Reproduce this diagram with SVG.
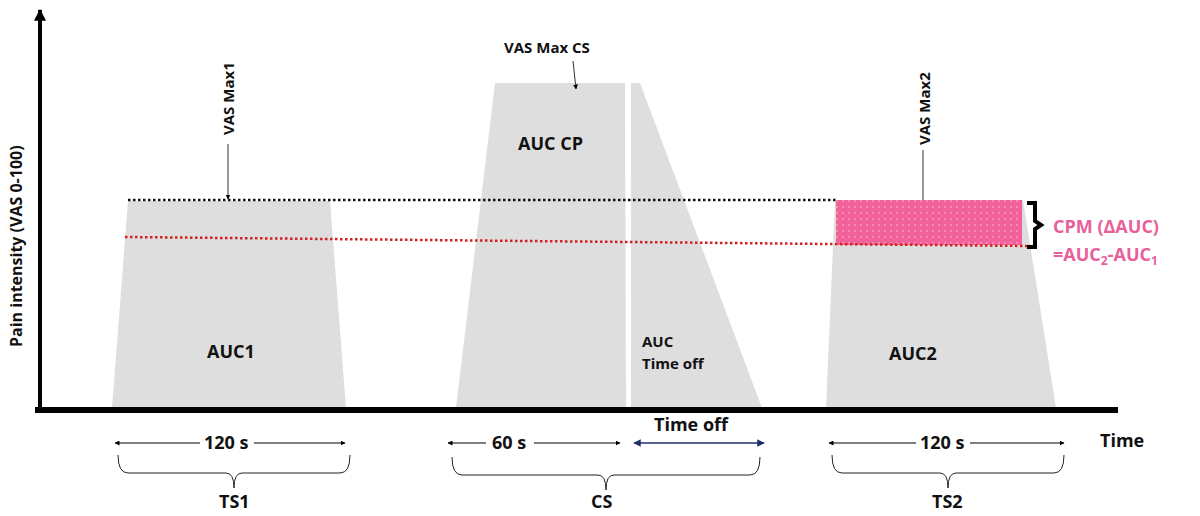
<svg xmlns="http://www.w3.org/2000/svg" width="1200" height="516" viewBox="0 0 1200 516">
<defs>
<marker id="ah" viewBox="0 0 10 10" refX="9" refY="5" markerWidth="5" markerHeight="5" orient="auto-start-reverse"><path d="M0,0L10,5L0,10z" fill="#000"/></marker>
<marker id="ahb" viewBox="0 0 10 10" refX="9" refY="5" markerWidth="5" markerHeight="5" orient="auto-start-reverse"><path d="M0,0L10,5L0,10z" fill="#1f2f6b"/></marker>
<marker id="ax" viewBox="0 0 10 10" refX="9" refY="5" markerWidth="3" markerHeight="3" orient="auto"><path d="M0,0L10,5L0,10z" fill="#000"/></marker>
<pattern id="dots" width="6" height="6" patternUnits="userSpaceOnUse"><rect width="6" height="6" fill="#f2629a"/><circle cx="3" cy="3" r="0.7" fill="#fbd0e0"/></pattern>
</defs>
<style>
text{font-family:"Open Sans","Liberation Sans",sans-serif;font-weight:bold;fill:#111}
.area{fill:#dedede}
.t{font-size:18px}
.s{font-size:15px}
.dim{stroke:#000;stroke-width:1;fill:none}
.br{stroke:#222;stroke-width:1;fill:none}
</style>
<rect width="1200" height="516" fill="#fff"/>
<g id="ts1"><polygon class="area" points="128,201 330,201 346,408 112,408"/><text class="t" x="207" y="358">AUC1</text></g>
<g id="cs"><polygon class="area" points="495,83 625,83 626,408 456,408"/><polygon class="area" points="631,83 640,83 762,408 631,408"/><text class="t" x="518" y="150">AUC CP</text><text class="s" x="642" y="347">AUC</text><text class="s" x="642" y="369">Time off</text></g>
<g id="ts2"><polygon class="area" points="835,200 1023,200 1056,408 826,408"/><rect x="836" y="200" width="186" height="45" fill="url(#dots)"/><text class="t" x="889" y="360">AUC2</text></g>
<g id="connectors">
<line x1="40" y1="410" x2="40" y2="10" stroke="#000" stroke-width="4" marker-end="url(#ax)"/>
<line x1="35" y1="410" x2="1118" y2="410" stroke="#000" stroke-width="6"/>
<line x1="128" y1="200" x2="836" y2="200" stroke="#111" stroke-width="2.5" stroke-dasharray="2.5,2.5"/>
<line x1="125" y1="237" x2="1030" y2="246" stroke="#d42020" stroke-width="2.5" stroke-dasharray="2.5,2.5"/>
<line x1="228" y1="144" x2="228" y2="199" stroke="#333" marker-end="url(#ah)"/>
<line x1="573" y1="61" x2="576" y2="89" stroke="#333" marker-end="url(#ah)"/>
<line x1="923" y1="150" x2="923" y2="200" stroke="#333"/>
<path d="M1027,203 h8 v18 l6,4 l-6,4 v18 h-8" fill="none" stroke="#000" stroke-width="4"/>
<line class="dim" x1="115" y1="443" x2="345" y2="443" marker-start="url(#ah)" marker-end="url(#ah)"/>
<line class="dim" x1="448" y1="443" x2="620" y2="443" marker-start="url(#ah)" marker-end="url(#ah)"/>
<line x1="634" y1="443" x2="764" y2="443" stroke="#1f2f6b" stroke-width="1.5" marker-start="url(#ahb)" marker-end="url(#ahb)"/>
<line class="dim" x1="829" y1="443" x2="1064" y2="443" marker-start="url(#ah)" marker-end="url(#ah)"/>
<path class="br" d="M118,455 q0,18 10,18 h98 q8,0 8,15 q0,-15 8,-15 h98 q10,0 10,-18"/>
<path class="br" d="M452,457 q0,18 10,18 h136 q8,0 8,15 q0,-15 8,-15 h136 q10,0 10,-18"/>
<path class="br" d="M832,455 q0,18 10,18 h98 q8,0 8,15 q0,-15 8,-15 h98 q10,0 10,-18"/>
</g>
<g id="labels">
<rect x="200" y="433" width="54" height="18" fill="#fff"/><text class="t" x="204" y="449">120 s</text>
<rect x="486" y="433" width="48" height="18" fill="#fff"/><text class="t" x="492" y="449">60 s</text>
<text class="t" x="654" y="431">Time off</text>
<rect x="916" y="433" width="54" height="18" fill="#fff"/><text class="t" x="920" y="449">120 s</text>
<text class="t" x="1100" y="447">Time</text>
<text class="t" x="219" y="508">TS1</text>
<text class="t" x="591" y="508">CS</text>
<text class="t" x="932" y="508">TS2</text>
<text class="s" x="504" y="53">VAS Max CS</text>
<text class="s" transform="translate(234,135) rotate(-90)">VAS Max1</text>
<text class="s" transform="translate(930,145) rotate(-90)">VAS Max2</text>
<text transform="translate(22,347) rotate(-90)" font-size="16">Pain intensity (VAS 0-100)</text>
<text x="1053" y="233" font-size="18" style="fill:#e8609a">CPM (ΔAUC)</text>
<text x="1053" y="261" font-size="18" style="fill:#e8609a">=AUC<tspan font-size="12" dy="4">2</tspan><tspan dy="-4">-AUC</tspan><tspan font-size="12" dy="4">1</tspan></text>
</g>
</svg>
